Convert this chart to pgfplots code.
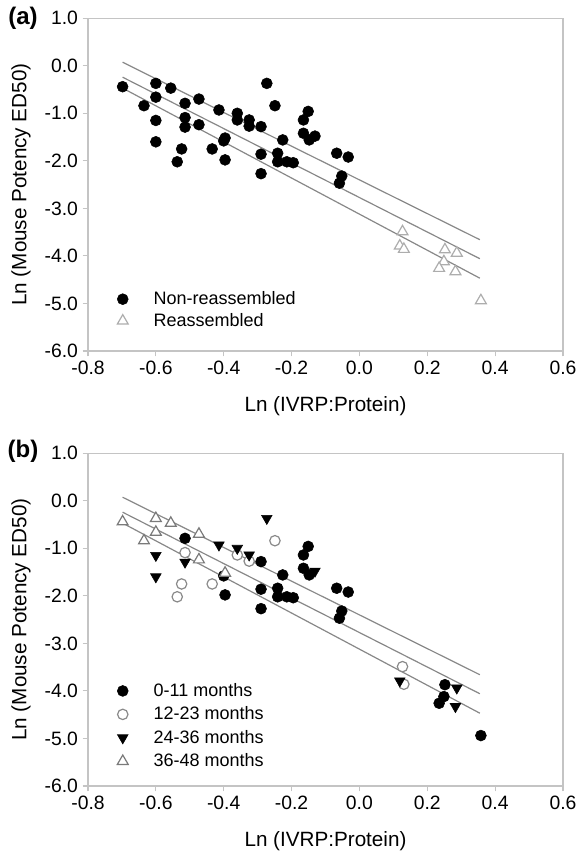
\documentclass[border=0pt]{standalone}
\usepackage{fontspec}
\setmainfont{Liberation Sans}
\usepackage{pgfplots}
\pgfplotsset{compat=1.18}
\definecolor{linegray}{HTML}{888888}
\definecolor{boxgray}{HTML}{C4C4C4}
\definecolor{trigrayA}{HTML}{ADADAD}
\definecolor{circgray}{HTML}{8A8A8A}
\definecolor{trigrayB}{HTML}{7A7A7A}
\pgfplotsset{
  panel/.style={
    scale only axis, width=356.25pt, height=249.5pt,
    xmin=-0.8, xmax=0.6, ymin=-6, ymax=1,
    xtick={-0.8,-0.6,-0.4,-0.2,0,0.2,0.4,0.6},
    xticklabels={-0.8,-0.6,-0.4,-0.2,0.0,0.2,0.4,0.6},
    ytick={-6,-5,-4,-3,-2,-1,0,1},
    yticklabels={-6.0,-5.0,-4.0,-3.0,-2.0,-1.0,0.0,1.0},
    tick align=outside, xtick pos=left, ytick pos=left,
    major tick length=4pt,
    tick style={boxgray, line width=0.9pt},
    axis line style={boxgray, line width=0.9pt},
    tick label style={font=\fontsize{14.5}{16}\selectfont, text=black},
    label style={font=\fontsize{15.5}{18}\selectfont},
    xlabel={Ln (IVRP:Protein)},
    ylabel={Ln (Mouse Potency ED50)},
    xlabel style={at={(axis description cs:0.5,-0.165)}, anchor=center},
    ylabel style={at={(axis description cs:-0.141,0.5)}, anchor=center},
    legend style={draw=none, fill=none, anchor=north west,
      font=\fontsize{13.5}{16}\selectfont, cells={anchor=west}},
    legend image code/.code={\path (0pt,0pt) (28pt,0pt);\draw[mark repeat=2,mark phase=2] plot coordinates {(0pt,0pt)(7pt,0pt)(28pt,0pt)};},
  },
  regline/.style={linegray, line width=0.9pt, forget plot, mark=none},
  filledc/.style={only marks, mark=*, mark size=4.1pt, mark options={fill=black, draw=black}},
}
\begin{document}
\begin{tikzpicture}
% ---------------- panel (a)
\begin{axis}[panel, name=a, at={(0pt,0pt)}, anchor=north west,
  legend style={at={(axis description cs:0.044,0.195)}, row sep=1pt}]
\addplot[regline] coordinates {(-0.698,0.075) (0.355,-3.66)};
\addplot[regline] coordinates {(-0.698,-0.24) (0.355,-4.06)};
\addplot[regline] coordinates {(-0.698,-0.47) (0.355,-4.47)};
\addplot[filledc] coordinates {
(-0.698,-0.44) (-0.600,-0.37) (-0.556,-0.47) (-0.600,-0.66) (-0.635,-0.84)
(-0.514,-0.79) (-0.473,-0.70) (-0.600,-1.15) (-0.514,-1.09) (-0.514,-1.29)
(-0.473,-1.24) (-0.600,-1.60) (-0.524,-1.75) (-0.537,-2.02) (-0.434,-1.75)
(-0.396,-1.98) (-0.396,-1.52) (-0.400,-1.58) (-0.414,-0.93) (-0.360,-1.00)
(-0.360,-1.14) (-0.325,-1.14) (-0.325,-1.27) (-0.290,-1.28) (-0.273,-0.37)
(-0.249,-0.84) (-0.226,-1.56) (-0.290,-1.86) (-0.290,-2.27) (-0.241,-1.84)
(-0.241,-2.02) (-0.214,-2.02) (-0.195,-2.04) (-0.151,-0.96) (-0.165,-1.14)
(-0.165,-1.42) (-0.148,-1.56) (-0.131,-1.48) (-0.067,-1.84) (-0.033,-1.92)
(-0.052,-2.32) (-0.059,-2.47)};
\addlegendentry{Non-reassembled}
\addplot[only marks, mark=triangle*, mark size=4.7pt, mark options={draw=trigrayA, fill=white, line width=0.9pt}] coordinates {
(0.127,-3.49) (0.119,-3.79) (0.131,-3.86) (0.252,-3.87) (0.287,-3.94)
(0.249,-4.12) (0.235,-4.26) (0.283,-4.33) (0.358,-4.94)};
\addlegendentry{Reassembled}
\end{axis}
% ---------------- panel (b)
\begin{axis}[panel, name=b, at={(0pt,-326.25pt)}, anchor=north west,
  legend style={at={(axis description cs:0.044,0.325)}, row sep=2.3pt}]
\addplot[regline] coordinates {(-0.698,0.075) (0.355,-3.66)};
\addplot[regline] coordinates {(-0.698,-0.24) (0.355,-4.06)};
\addplot[regline] coordinates {(-0.698,-0.47) (0.355,-4.47)};
\addplot[filledc] coordinates {
(-0.514,-0.79) (-0.396,-1.98) (-0.400,-1.58) (-0.290,-1.28) (-0.226,-1.56)
(-0.290,-1.86) (-0.290,-2.27) (-0.241,-1.84) (-0.241,-2.02) (-0.214,-2.02)
(-0.195,-2.04) (-0.151,-0.96) (-0.165,-1.14) (-0.165,-1.42) (-0.148,-1.56)
(-0.067,-1.84) (-0.033,-1.92) (-0.052,-2.32) (-0.059,-2.47)
(0.252,-3.87) (0.249,-4.12) (0.235,-4.26) (0.358,-4.94)};
\addlegendentry{0-11 months}
\addplot[only marks, mark=*, mark size=3.9pt, mark options={draw=circgray, fill=white, line width=0.9pt}] coordinates {
(-0.514,-1.09) (-0.524,-1.75) (-0.537,-2.02) (-0.434,-1.75) (-0.360,-1.14)
(-0.325,-1.27) (-0.249,-0.84) (0.127,-3.49) (0.131,-3.86)};
\addlegendentry{12-23 months}
\addplot[only marks, mark=triangle*, mark size=4.6pt, mark options={draw=black, fill=black, rotate=180}] coordinates {
(-0.600,-1.15) (-0.514,-1.29) (-0.600,-1.60) (-0.414,-0.93) (-0.360,-1.00)
(-0.325,-1.14) (-0.273,-0.37) (-0.131,-1.48) (0.119,-3.79) (0.287,-3.94)
(0.283,-4.33)};
\addlegendentry{24-36 months}
\addplot[only marks, mark=triangle*, mark size=4.7pt, mark options={draw=trigrayB, fill=white, line width=0.9pt}] coordinates {
(-0.698,-0.44) (-0.600,-0.37) (-0.556,-0.47) (-0.600,-0.66) (-0.635,-0.84)
(-0.473,-0.70) (-0.473,-1.24) (-0.396,-1.52)};
\addlegendentry{36-48 months}
\end{axis}
\node[font=\bfseries\fontsize{18}{20}\selectfont] at ([xshift=-48.75pt,yshift=0.2pt]a.north west) {(a)};
\node[font=\bfseries\fontsize{18}{20}\selectfont] at ([xshift=-48.75pt,yshift=1.5pt]b.north west) {(b)};
\pgfresetboundingbox
\path (-66pt,13.7pt) rectangle (367.5pt,-625.3pt);
\end{tikzpicture}
\end{document}
